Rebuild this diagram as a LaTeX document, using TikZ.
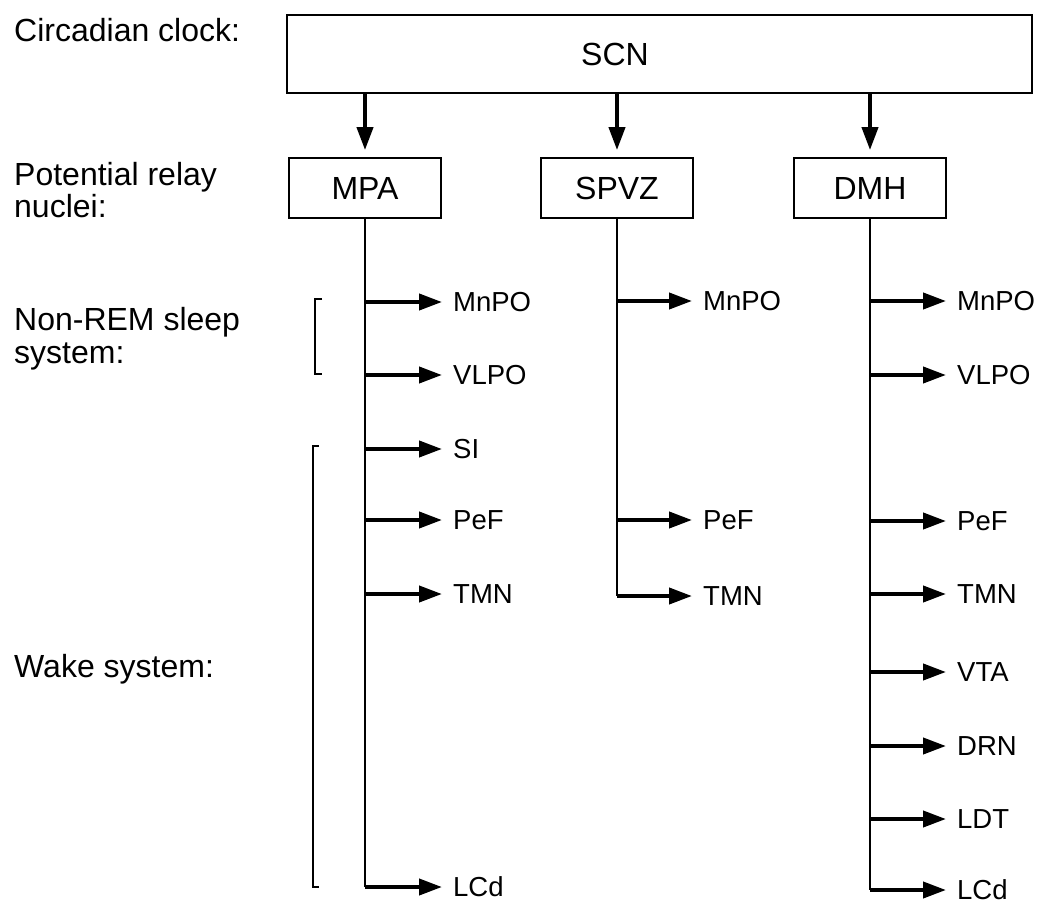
\documentclass[tikz,border=0pt]{standalone}
\usepackage{fontspec}
\setmainfont{Liberation Sans}
\usetikzlibrary{arrows.meta}
\begin{document}
\begin{tikzpicture}[x=1pt,y=-1pt,
  bigtext/.style={font=\fontsize{32}{34}\selectfont, inner sep=0},
  side/.style={font=\fontsize{32}{34}\selectfont, anchor=base west, inner sep=0},
  lbl/.style={font=\fontsize{27.5}{30}\selectfont, anchor=west, inner sep=0, text height=19.7pt, text depth=0pt},
  box/.style={draw, line width=1.8pt, minimum width=152pt, minimum height=60pt, inner sep=0, font=\fontsize{32}{34}\selectfont},
  thinline/.style={line width=1.8pt},
  brk/.style={line width=1.5pt},
  arr/.style={line width=4pt, -{Triangle[length=23pt,width=16pt]}},
]
\useasboundingbox (0,0) rectangle (1037,902);

% left labels
\node[side] (lc) at (14,41) {Circadian clock:};
\node[side] (lr1) at (14,185) {Potential relay};
\node[side] (lr2) at (14,217) {nuclei:};
\node[side] (ln1) at (14,330) {Non-REM sleep};
\node[side] (ln2) at (14,363) {system:};
\node[side] (lw) at (14,677) {Wake system:};

% brackets
\draw[brk] (322,299) -- (315,299) -- (315,374) -- (322,374);
\draw[brk] (319,446) -- (313,446) -- (313,887) -- (319,887);

% SCN
\node[draw, line width=1.8pt, minimum width=745pt, minimum height=78pt, inner sep=0] (scn) at (659.5,54) {};
\node[bigtext] (scnt) at (615,54) {SCN};

% relay boxes
\node[box] (mpa) at (365,188) {MPA};
\node[box] (spvz) at (617,188) {SPVZ};
\node[box] (dmh) at (870,188) {DMH};

\foreach \n in {mpa,spvz,dmh}
  \draw[arr, shorten >=7pt] (scn.south -| \n.north) -- (\n.north);

% MPA targets
\node[lbl] (m1) at (453,302) {MnPO};
\node[lbl] (m2) at (453,375) {VLPO};
\node[lbl] (m3) at (453,449) {SI};
\node[lbl] (m4) at (453,520) {PeF};
\node[lbl] (m5) at (453,594) {TMN};
\node[lbl] (m6) at (453,887) {LCd};
\draw[thinline] (mpa.south) -- (mpa.south |- m6.west);
\foreach \t in {m1,m2,m3,m4,m5,m6}
  \draw[arr, shorten >=11pt] (mpa.south |- \t.west) -- (\t.west);

% SPVZ targets
\node[lbl] (s1) at (703,301) {MnPO};
\node[lbl] (s2) at (703,520) {PeF};
\node[lbl] (s3) at (703,596) {TMN};
\draw[thinline] (spvz.south) -- (spvz.south |- s3.west);
\foreach \t in {s1,s2,s3}
  \draw[arr, shorten >=11pt] (spvz.south |- \t.west) -- (\t.west);

% DMH targets
\node[lbl] (d1) at (957,301) {MnPO};
\node[lbl] (d2) at (957,375) {VLPO};
\node[lbl] (d3) at (957,521) {PeF};
\node[lbl] (d4) at (957,594) {TMN};
\node[lbl] (d5) at (957,672) {VTA};
\node[lbl] (d6) at (957,746) {DRN};
\node[lbl] (d7) at (957,819) {LDT};
\node[lbl] (d8) at (957,890) {LCd};
\draw[thinline] (dmh.south) -- (dmh.south |- d8.west);
\foreach \t in {d1,d2,d3,d4,d5,d6,d7,d8}
  \draw[arr, shorten >=11pt] (dmh.south |- \t.west) -- (\t.west);
\end{tikzpicture}
\end{document}
